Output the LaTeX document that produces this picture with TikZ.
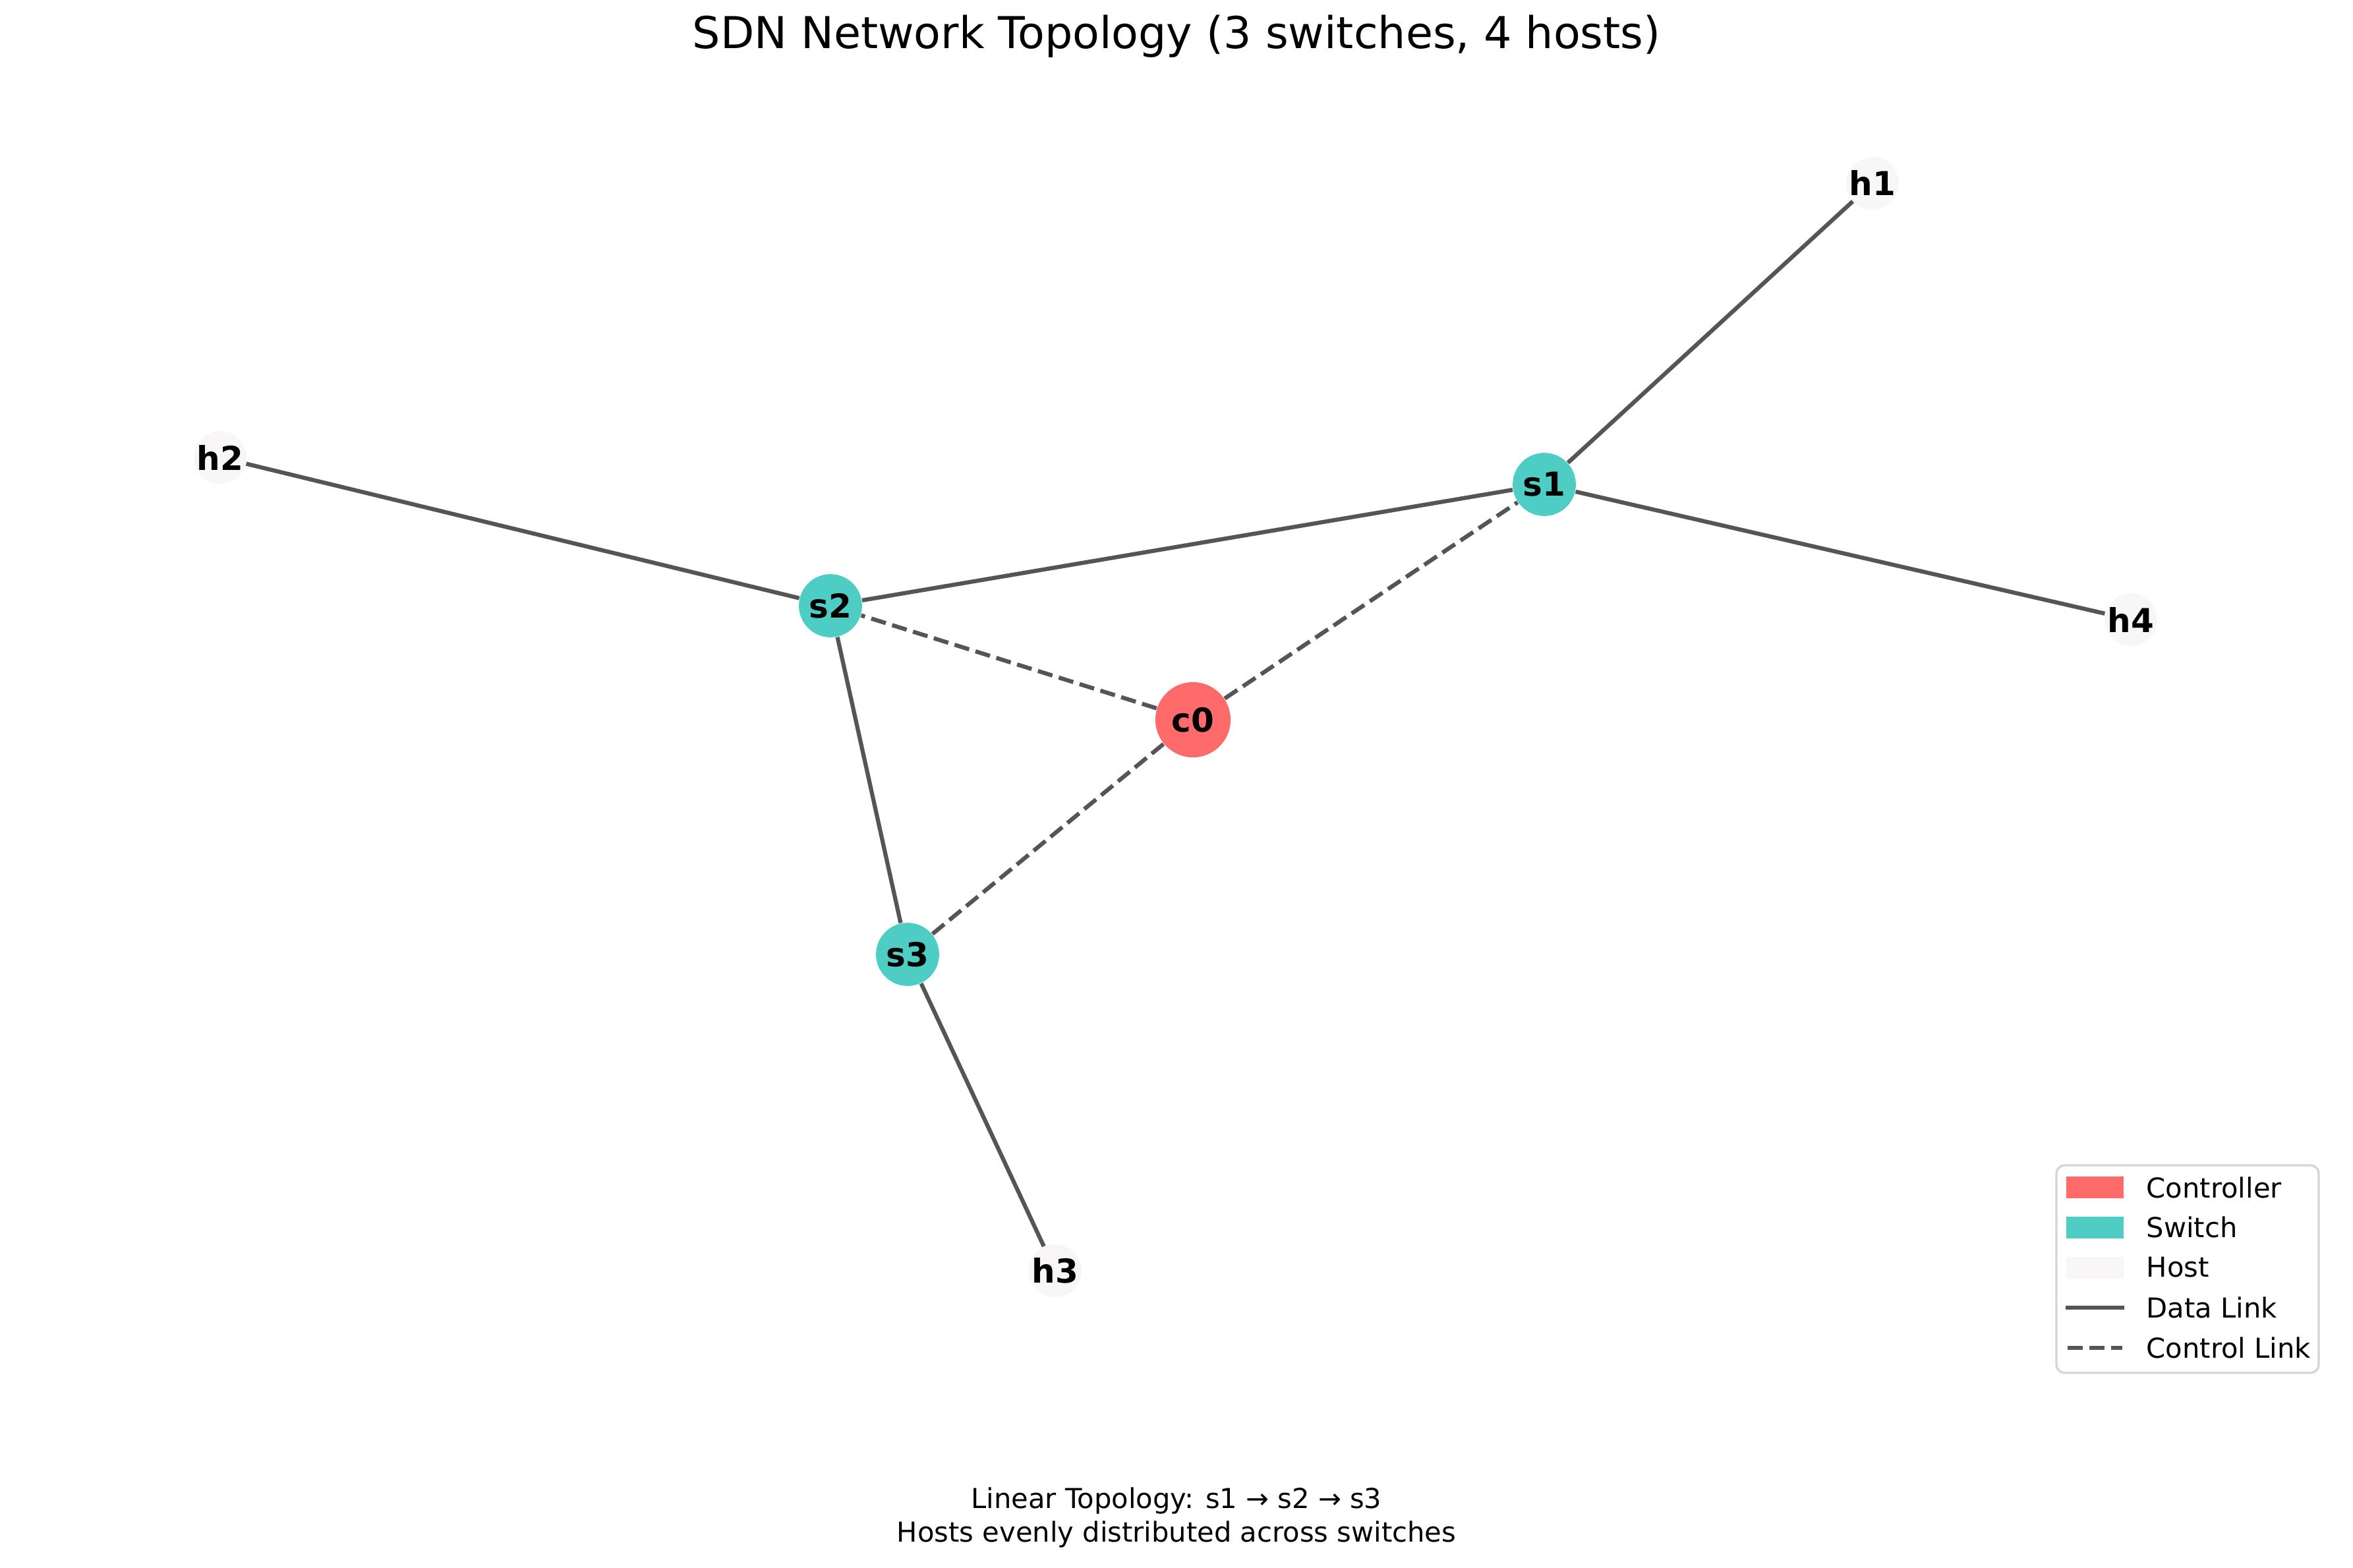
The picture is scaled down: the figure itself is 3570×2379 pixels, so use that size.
\documentclass[tikz,border=0pt]{standalone}
\usepackage{fontspec}
\setmainfont{DejaVu Sans}
\definecolor{ctrl}{HTML}{FF6B6B}
\definecolor{sw}{HTML}{4ECDC4}
\definecolor{hostc}{HTML}{F8F6F6}
\definecolor{edgec}{HTML}{555555}
\definecolor{legb}{HTML}{D5D5D5}
\tikzset{
  px/.style={x=0.24pt,y=-0.24pt},
  ctrlnode/.style={circle,fill=ctrl,minimum size=27.4pt,inner sep=0pt,font=\fontsize{12}{14}\selectfont\bfseries},
  swnode/.style={circle,fill=sw,minimum size=23pt,inner sep=0pt,font=\fontsize{12}{14}\selectfont\bfseries},
  hostnode/.style={circle,fill=hostc,minimum size=18.2pt,inner sep=0pt,font=\fontsize{12}{14}\selectfont\bfseries},
  datalink/.style={draw=edgec,line width=1.5pt},
  ctrllink/.style={draw=edgec,line width=1.5pt,dash pattern=on 5.55pt off 2.4pt},
  legtext/.style={anchor=west,inner sep=0pt,font=\fontsize{10}{12}\selectfont},
}
\begin{document}
\begin{tikzpicture}[px]
\useasboundingbox (0,0) rectangle (3570,2379);
% title
\node[font=\fontsize{16}{19}\selectfont] (title) at (1785,55) {SDN Network Topology (3 switches, 4 hosts)};
% nodes
\node[ctrlnode] (c0) at (1810,1092) {c0};
\node[swnode] (s1) at (2343,735) {s1};
\node[swnode] (s2) at (1260,919) {s2};
\node[swnode] (s3) at (1377,1448) {s3};
\node[hostnode] (h1) at (2841,278) {h1};
\node[hostnode] (h2) at (334,694) {h2};
\node[hostnode] (h3) at (1601,1928) {h3};
\node[hostnode] (h4) at (3233,940) {h4};
% data links
\draw[datalink] (s1) -- (h1);
\draw[datalink] (s1) -- (h4);
\draw[datalink] (s1) -- (s2);
\draw[datalink] (s2) -- (h2);
\draw[datalink] (s2) -- (s3);
\draw[datalink] (s3) -- (h3);
% control links
\draw[ctrllink] (c0) -- (s1);
\draw[ctrllink] (c0) -- (s2);
\draw[ctrllink] (c0) -- (s3);
% legend
\draw[draw=legb,line width=0.8pt,fill=white,rounded corners=3pt] (3120,1768) rectangle (3518,2083);
\fill[ctrl] (3135,1785) rectangle (3222,1818);
\fill[sw] (3135,1846) rectangle (3222,1879);
\fill[hostc] (3135,1907) rectangle (3222,1940);
\coordinate (dl1) at (3134,1984);
\coordinate (dl2) at (3223,1984);
\draw[datalink] (dl1) -- (dl2);
\coordinate (cl1) at (3137,2045);
\coordinate (cl2) at (3220,2045);
\draw[ctrllink] (cl1) -- (cl2);
\node[legtext] (lc) at (3256,1802) {Controller};
\node[legtext] (ls) at (3256,1862) {Switch};
\node[legtext] (lh) at (3256,1923) {Host};
\node[legtext] (ld) at (3256,1984) {Data Link};
\node[legtext] (lk) at (3256,2045) {Control Link};
% bottom text
\node[font=\fontsize{10}{12}\selectfont] (b1) at (1785,2277) {Linear Topology: s1 → s2 → s3};
\node[font=\fontsize{10}{12}\selectfont] (b2) at (1785,2328) {Hosts evenly distributed across switches};
\end{tikzpicture}
\end{document}
